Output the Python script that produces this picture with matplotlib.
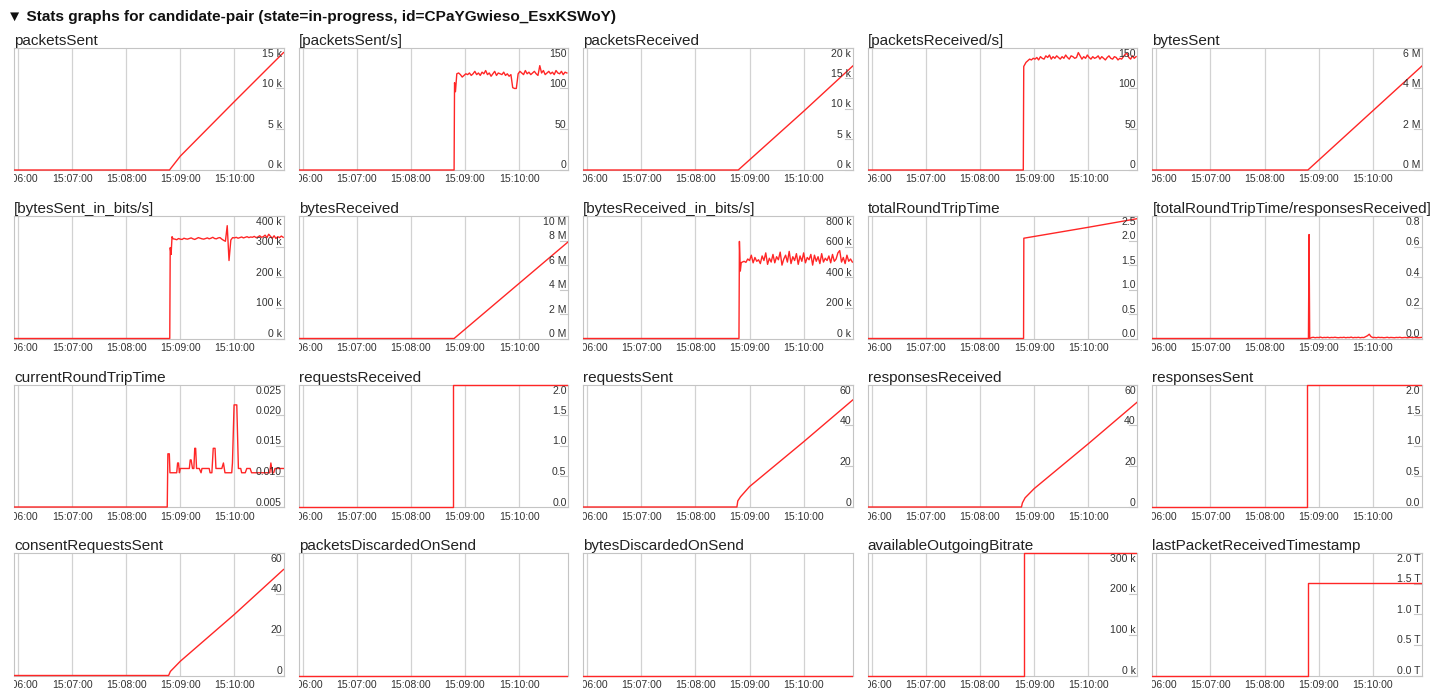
import numpy as np
import matplotlib
matplotlib.use("Agg")
import matplotlib.pyplot as plt
from matplotlib.transforms import Bbox, TransformedBbox, blended_transform_factory, offset_copy

W, H = 1455, 691
HEADER = "▼ Stats graphs for candidate-pair (state=in-progress, id=CPaYGwieso_EsxKSWoY)"

# time axis: seconds after 15:06:00
X_MIN, X_MAX = -4.4, 294.4
TICK_SECONDS = [0, 60, 120, 180, 240]
TICK_LABELS = ["15:06:00", "15:07:00", "15:08:00", "15:09:00", "15:10:00"]

# ---------------- series ----------------
PACKETS_SENT_T = [-5, 168, 180, 240, 294.4]
PACKETS_SENT_V = [0, 0, 1700, 8400, 14400]

PS_RATE_HEAD_T = [-5, 168, 168.5, 169.5]
PS_RATE_HEAD_V = [0, 0, 107, 96]
PS_RATE_START, PS_RATE_STEP = 171, 2
PS_RATE_V = [118, 119, 117, 114, 116, 118, 117, 119, 116, 118, 121, 117, 119, 116, 120, 118,
             122, 117, 119, 115, 118, 121, 116, 119, 118, 117, 120, 116, 118, 115, 117, 101,
             100, 100, 118, 121, 119, 117, 122, 118, 120, 117, 119, 121, 118, 116, 128, 119,
             122, 117, 119, 121, 118, 120, 117, 122, 119, 118, 121, 117, 120, 119]

PACKETS_RECV_T = [-5, 167.5, 240, 294.4]
PACKETS_RECV_V = [0, 0, 9600, 17000]

PR_RATE_HEAD_T = [-5, 168, 168.5, 169.5]
PR_RATE_HEAD_V = [0, 0, 127, 129]
PR_RATE_START, PR_RATE_STEP = 171, 2
PR_RATE_V = [132, 134, 136, 135, 137, 136, 138, 135, 139, 137, 136, 140, 138, 141, 136, 139,
             137, 140, 138, 136, 139, 137, 141, 138, 136, 140, 139, 137, 138, 144, 140, 136,
             139, 137, 141, 138, 136, 139, 137, 138, 140, 136, 139, 137, 135, 138, 140, 137,
             136, 139, 138, 135, 137, 136, 139, 142, 143, 138, 136, 140, 137, 139]

BYTES_SENT_T = [-5, 168, 294.4]
BYTES_SENT_V = [0, 0, 5.1e6]

BS_RATE_HEAD_T = [-5, 168.3, 168.8, 169.8, 170.8]
BS_RATE_HEAD_V = [0, 0, 297e3, 275e3, 333e3]
BS_RATE_START, BS_RATE_STEP = 172, 2
BS_RATE_K = [326, 325, 323, 327, 325, 324, 328, 326, 325, 327, 329, 326, 324, 327, 330, 328,
             326, 325, 327, 329, 326, 328, 331, 327, 326, 329, 330, 325, 321, 318, 369, 255,
             322, 330, 329, 331, 328, 330, 332, 329, 331, 333, 330, 332, 331, 334, 330, 332,
             336, 331, 333, 338, 330, 341, 334, 328, 336, 327, 333, 330, 335, 331]

BYTES_RECV_T = [-5, 168, 294.4]
BYTES_RECV_V = [0, 0, 7.9e6]

BR_RATE_HEAD_T = [-5, 168.3, 168.8, 169.8, 170.8]
BR_RATE_HEAD_V = [0, 0, 635e3, 441e3, 496e3]
BR_RATE_START, BR_RATE_STEP = 172, 2
BR_RATE_K = [500, 505, 498, 520, 510, 545, 495, 530, 505, 515, 490, 540, 510, 560, 485, 525,
             500, 550, 495, 535, 515, 565, 480, 520, 545, 500, 570, 490, 535, 510, 555, 485,
             540, 505, 560, 495, 530, 515, 550, 480, 545, 505, 535, 490, 555, 500, 525, 510,
             540, 495, 550, 505, 520, 560, 575, 500, 530, 490, 545, 505, 520, 500]

TOTAL_RTT_T = [-5, 168.3, 168.6, 239, 294.4]
TOTAL_RTT_V = [0, 0, 2.05, 2.27, 2.45]

RTT_PER_RESP_HEAD_T = [-5, 168.6, 169.3, 170.0]
RTT_PER_RESP_HEAD_V = [0, 0, 0.68, 0.0]
RTT_PER_RESP_START, RTT_PER_RESP_STEP = 172, 2
RTT_PER_RESP_V = [0.006, 0.008, 0.005, 0.007, 0.006, 0.009, 0.005, 0.007, 0.006, 0.008, 0.005,
                  0.007, 0.006, 0.008, 0.006, 0.005, 0.007, 0.006, 0.008, 0.005, 0.007, 0.006,
                  0.009, 0.005, 0.007, 0.006, 0.008, 0.005, 0.007, 0.006, 0.012, 0.018, 0.028,
                  0.012, 0.006, 0.007, 0.005, 0.008, 0.006, 0.007, 0.005, 0.006, 0.008, 0.005,
                  0.007, 0.006, 0.005, 0.007, 0.006, 0.008, 0.005, 0.006, 0.007, 0.005, 0.006,
                  0.008, 0.005, 0.007, 0.006, 0.005, 0.006, 0.007]

CUR_RTT_T = [-5, 165.5, 166.2, 167.8, 168.5, 176, 177, 178, 179, 180, 190, 191, 192, 193.5,
             195, 196, 197, 198, 201, 203, 204, 206, 212, 213, 215, 216.5, 218.5, 219.5, 226,
             227.8, 229.5, 237, 237.8, 239.6, 242.6, 244.4, 247, 248, 252, 253.7, 257.4, 259,
             277.8, 279.2, 280.4, 282, 283.5, 285, 294.4]
CUR_RTT_V = [0, 0, 0.0137, 0.0137, 0.0106, 0.0106, 0.0122, 0.0122, 0.0106, 0.0113, 0.0113,
             0.0127, 0.0127, 0.0113, 0.0113, 0.0146, 0.0146, 0.0113, 0.0113, 0.0106, 0.0113,
             0.0113, 0.0113, 0.0106, 0.0106, 0.0146, 0.0146, 0.0113, 0.0113, 0.0122, 0.0106,
             0.0106, 0.0122, 0.0217, 0.0217, 0.0113, 0.0113, 0.0106, 0.0106, 0.0113, 0.0113,
             0.0106, 0.0106, 0.0106, 0.0122, 0.0106, 0.0106, 0.0113, 0.0113]

REQ_RECV_T = [-5, 166.3, 166.3, 294.4]
REQ_RECV_V = [0, 0, 2, 2]

REQ_SENT_T = [-5, 166, 167, 170, 180, 240, 294.4]
REQ_SENT_V = [0, 0, 3, 5, 10, 32, 52.5]

RESP_RECV_T = [-5, 166, 167, 170, 180, 240, 294.4]
RESP_RECV_V = [0, 0, 2, 4.5, 9, 31, 51.5]

RESP_SENT_T = [-5, 167.4, 167.4, 294.4]
RESP_SENT_V = [0, 0, 2, 2]

CONSENT_T = [-5, 167, 169, 180, 240, 294.4]
CONSENT_V = [0, 0, 2, 7, 30, 52]

DISCARD_T = [-5, 294.4]
PKT_DISCARD_V = [0, 0]
BYTES_DISCARD_V = [0, 0]

AVAIL_T = [-5, 168.5, 168.5, 294.4]
AVAIL_V = [0, 0, 300e3, 300e3]

LAST_PKT_T = [-5, 168.5, 168.5, 294.4]
LAST_PKT_V = [0, 0, 1.52e12, 1.52e12]


def with_head(head_t, head_v, start, step, vals, scale=1.0):
    t = list(head_t) + list(start + step * np.arange(len(vals)))
    v = list(head_v) + [x * scale for x in vals]
    return t, v


ps_t, ps_v = with_head(PS_RATE_HEAD_T, PS_RATE_HEAD_V, PS_RATE_START, PS_RATE_STEP, PS_RATE_V)
pr_t, pr_v = with_head(PR_RATE_HEAD_T, PR_RATE_HEAD_V, PR_RATE_START, PR_RATE_STEP, PR_RATE_V)
bs_t, bs_v = with_head(BS_RATE_HEAD_T, BS_RATE_HEAD_V, BS_RATE_START, BS_RATE_STEP, BS_RATE_K, 1e3)
br_t, br_v = with_head(BR_RATE_HEAD_T, BR_RATE_HEAD_V, BR_RATE_START, BR_RATE_STEP, BR_RATE_K, 1e3)
rr_t, rr_v = with_head(RTT_PER_RESP_HEAD_T, RTT_PER_RESP_HEAD_V, RTT_PER_RESP_START,
                       RTT_PER_RESP_STEP, RTT_PER_RESP_V)

PANELS = [
    ("packetsSent", PACKETS_SENT_T, PACKETS_SENT_V, [0, 5e3, 10e3, 15e3], ["0 k", "5 k", "10 k", "15 k"]),
    ("[packetsSent/s]", ps_t, ps_v, [0, 50, 100, 150], ["0", "50", "100", "150"]),
    ("packetsReceived", PACKETS_RECV_T, PACKETS_RECV_V, [0, 5e3, 10e3, 15e3, 20e3], ["0 k", "5 k", "10 k", "15 k", "20 k"]),
    ("[packetsReceived/s]", pr_t, pr_v, [0, 50, 100, 150], ["0", "50", "100", "150"]),
    ("bytesSent", BYTES_SENT_T, BYTES_SENT_V, [0, 2e6, 4e6, 6e6], ["0 M", "2 M", "4 M", "6 M"]),
    ("[bytesSent_in_bits/s]", bs_t, bs_v, [0, 100e3, 200e3, 300e3, 400e3], ["0 k", "100 k", "200 k", "300 k", "400 k"]),
    ("bytesReceived", BYTES_RECV_T, BYTES_RECV_V, [0, 2e6, 4e6, 6e6, 8e6, 10e6], ["0 M", "2 M", "4 M", "6 M", "8 M", "10 M"]),
    ("[bytesReceived_in_bits/s]", br_t, br_v, [0, 200e3, 400e3, 600e3, 800e3], ["0 k", "200 k", "400 k", "600 k", "800 k"]),
    ("totalRoundTripTime", TOTAL_RTT_T, TOTAL_RTT_V, [0, 0.5, 1.0, 1.5, 2.0, 2.5], ["0.0", "0.5", "1.0", "1.5", "2.0", "2.5"]),
    ("[totalRoundTripTime/responsesReceived]", rr_t, rr_v, [0, 0.2, 0.4, 0.6, 0.8], ["0.0", "0.2", "0.4", "0.6", "0.8"]),
    ("currentRoundTripTime", CUR_RTT_T, CUR_RTT_V, [0.005, 0.010, 0.015, 0.020, 0.025], ["0.005", "0.010", "0.015", "0.020", "0.025"]),
    ("requestsReceived", REQ_RECV_T, REQ_RECV_V, [0, 0.5, 1.0, 1.5, 2.0], ["0.0", "0.5", "1.0", "1.5", "2.0"]),
    ("requestsSent", REQ_SENT_T, REQ_SENT_V, [0, 20, 40, 60], ["0", "20", "40", "60"]),
    ("responsesReceived", RESP_RECV_T, RESP_RECV_V, [0, 20, 40, 60], ["0", "20", "40", "60"]),
    ("responsesSent", RESP_SENT_T, RESP_SENT_V, [0, 0.5, 1.0, 1.5, 2.0], ["0.0", "0.5", "1.0", "1.5", "2.0"]),
    ("consentRequestsSent", CONSENT_T, CONSENT_V, [0, 20, 40, 60], ["0", "20", "40", "60"]),
    ("packetsDiscardedOnSend", DISCARD_T, PKT_DISCARD_V, [], []),
    ("bytesDiscardedOnSend", DISCARD_T, BYTES_DISCARD_V, [], []),
    ("availableOutgoingBitrate", AVAIL_T, AVAIL_V, [0, 100e3, 200e3, 300e3], ["0 k", "100 k", "200 k", "300 k"]),
    ("lastPacketReceivedTimestamp", LAST_PKT_T, LAST_PKT_V, [0, 0.5e12, 1.0e12, 1.5e12, 2.0e12], ["0.0 T", "0.5 T", "1.0 T", "1.5 T", "2.0 T"]),
]

# ---------------- layout ----------------
COL_LEFT0, COL_PITCH, BOX_W = 14.0, 284.6, 269.5
ROW_TOP0, ROW_PITCH, BOX_H = 47.7, 168.5, 122.3

LINE_COLOR = "#ff2626"
GRID_COLOR = "#d2d2d2"
EDGE_COLOR = "#c4c4c4"
TEXT_COLOR = "#222222"
TICK_FONT = ["Liberation Sans", "DejaVu Sans"]
TICK_SIZE = 7.6

fig = plt.figure(figsize=(W / 100, H / 100), dpi=100)
fig.patch.set_facecolor("white")

fig.text(7 / W, 1 - 16.5 / H, HEADER, ha="left", va="center", fontsize=11.1,
         fontweight="bold", family=["Liberation Sans", "DejaVu Sans"], color="#111111")

for i, (title, t, v, yt, yl) in enumerate(PANELS):
    r, c = divmod(i, 5)
    left = COL_LEFT0 + c * COL_PITCH
    top = ROW_TOP0 + r * ROW_PITCH
    ax = fig.add_axes([left / W, 1 - (top + BOX_H) / H, BOX_W / W, BOX_H / H])
    ax.set_facecolor("white")
    if yt:
        ymin, ymax = yt[0], yt[-1]
    else:
        ymin, ymax = 0, 1
    ax.set_xlim(X_MIN, X_MAX)
    ax.set_ylim(ymin, ymax)
    for s in ax.spines.values():
        s.set_color(EDGE_COLOR)
        s.set_linewidth(0.8)
    ax.set_xticks(TICK_SECONDS)
    ax.set_yticks([])
    ax.tick_params(axis="x", length=0, labelbottom=False)
    ax.grid(axis="x", color=GRID_COLOR, linewidth=0.9)
    ax.set_axisbelow(True)

    vv = np.clip(np.asarray(v, dtype=float), ymin, ymax)
    ln, = ax.plot(t, vv, color=LINE_COLOR, linewidth=1.0, zorder=3)
    ln.set_clip_box(TransformedBbox(Bbox([[0, -0.03], [1, 1.03]]), ax.transAxes))

    # title
    ax.text(0, 1, title, transform=offset_copy(ax.transAxes, fig=fig, x=0, y=3, units="dots"),
            ha="left", va="baseline", fontsize=11, family=["Liberation Sans", "DejaVu Sans"],
            color=TEXT_COLOR)

    # x labels (clipped to the panel width)
    clip = TransformedBbox(Bbox([[0, -0.5], [1, 1]]), ax.transAxes)
    xtr = offset_copy(blended_transform_factory(ax.transData, ax.transAxes), fig=fig,
                      x=0, y=-4.5, units="dots")
    for ts, lab in zip(TICK_SECONDS, TICK_LABELS):
        tx = ax.text(ts, 0, lab, transform=xtr, ha="center", va="top", fontsize=TICK_SIZE,
                     family=TICK_FONT, color="#333333")
        tx.set_clip_box(clip)
        tx.set_clip_on(True)

    # y labels on the right, inside the box
    btr = blended_transform_factory(ax.transAxes, ax.transData)
    for j, (val, lab) in enumerate(zip(yt, yl)):
        if j == len(yt) - 1:
            tr = offset_copy(btr, fig=fig, x=-1.5, y=-1.0, units="dots")
            va = "top"
        else:
            tr = offset_copy(btr, fig=fig, x=-1.5, y=1.5, units="dots")
            va = "baseline"
        ax.text(1, val, lab, transform=tr, ha="right", va=va, fontsize=TICK_SIZE,
                family=TICK_FONT, color="#333333", zorder=4)
        ax.plot([1 - 8 / BOX_W, 1], [val, val], transform=btr, color="#c8c8c8",
                linewidth=0.8, clip_on=False, zorder=2)

fig.savefig("out.png", dpi=100, facecolor="white")
